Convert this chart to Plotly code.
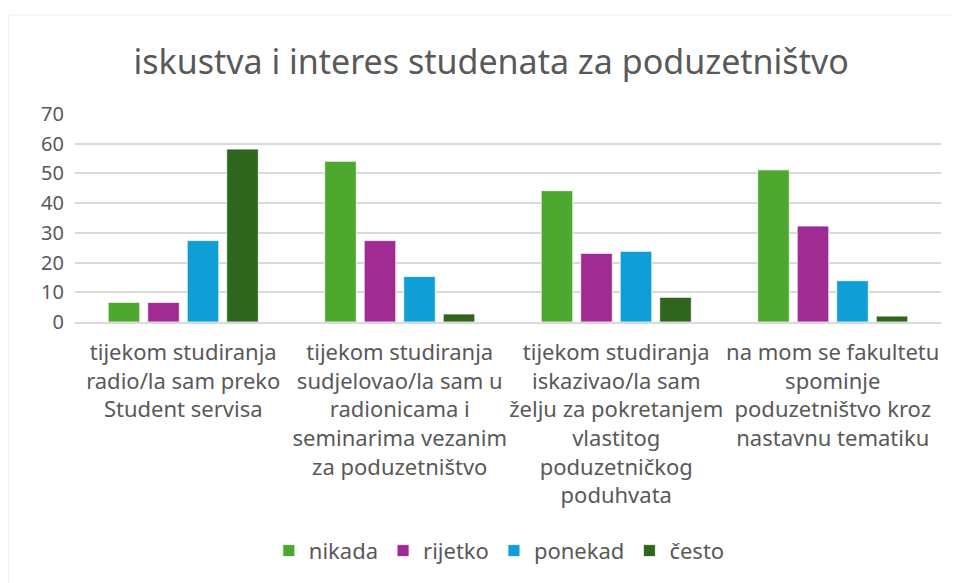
import plotly.graph_objects as go

categories = [
    "tijekom studiranja<br>radio/la sam preko<br>Student servisa",
    "tijekom studiranja<br>sudjelovao/la sam u<br>radionicama i<br>seminarima vezanim<br>za poduzetništvo",
    "tijekom studiranja<br>iskazivao/la sam<br>želju za pokretanjem<br>vlastitog<br>poduzetničkog<br>poduhvata",
    "na mom se fakultetu<br>spominje<br>poduzetništvo kroz<br>nastavnu tematiku",
]
nikada = [6.6, 54.1, 44.2, 51.2]
rijetko = [6.6, 27.4, 23.1, 32.3]
ponekad = [27.4, 15.3, 23.8, 13.9]
cesto = [58.2, 2.7, 8.3, 2.0]

series = [
    ("nikada", nikada, "#4ea72e"),
    ("rijetko", rijetko, "#a02b93"),
    ("ponekad", ponekad, "#0f9ed5"),
    ("često", cesto, "#2f651c"),
]

fig = go.Figure()
for name, vals, color in series:
    fig.add_trace(go.Bar(
        x=categories,
        y=vals,
        name=name,
        marker=dict(color=color, line=dict(color="white", width=0.8)),
    ))

grey = "#595959"
# page body has an 8px margin, so the figure is sized / offset to compensate
fig.update_layout(
    width=951,
    height=575,
    template="simple_white",
    font=dict(family="Noto Sans", size=22, color=grey),
    title=dict(
        text="iskustva i interes studenata za poduzetništvo",
        x=0.508, xanchor="center", y=0.906, yanchor="middle",
        font=dict(size=34, color=grey),
    ),
    barmode="group",
    bargap=0.27,
    bargroupgap=0.2,
    margin=dict(l=67, r=18, t=106, b=261, autoexpand=False),
    showlegend=True,
    legend=dict(
        orientation="h", x=0.49, xanchor="center", y=-1.1, yanchor="middle",
        font=dict(size=22, color=grey), traceorder="normal",
    ),
    plot_bgcolor="white",
    paper_bgcolor="white",
)
fig.update_yaxes(
    range=[0, 70], dtick=10, showgrid=True, gridcolor="#d9d9d9", gridwidth=1.5,
    showline=False, ticks="outside", ticklen=6, tickcolor="rgba(0,0,0,0)",
    tickfont=dict(size=20, color=grey), zeroline=False, automargin=False,
)
fig.update_xaxes(
    showline=True, linecolor="#d9d9d9", linewidth=1.5, ticks="",
    tickfont=dict(size=22, color=grey), tickangle=0, automargin=False,
    ticklabelstandoff=10,
)
# chart frame
fig.add_shape(
    type="rect", xref="paper", yref="paper",
    x0=-0.077, x1=1.06, y0=-1.3, y1=1.476,
    line=dict(color="#d9d9d9", width=1.5), fillcolor="rgba(0,0,0,0)",
)

fig.write_html("out.html")
